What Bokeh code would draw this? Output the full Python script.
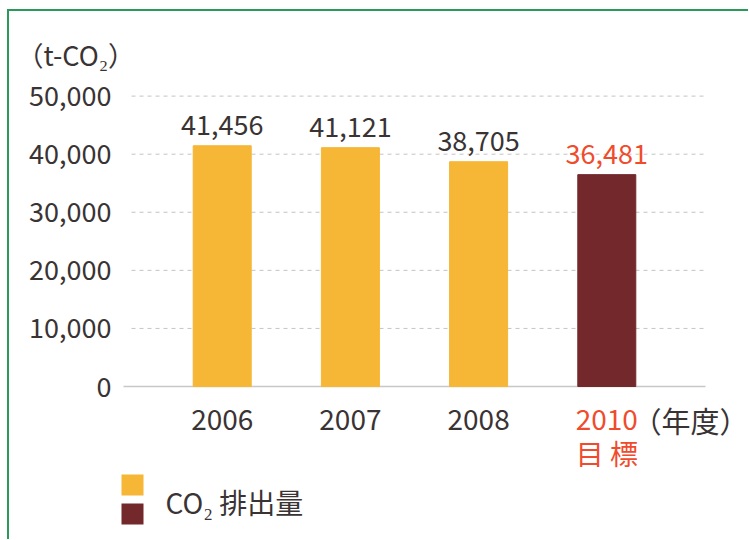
from bokeh.plotting import figure
from bokeh.models import (ColumnDataSource, LabelSet, FixedTicker,
                          NumeralTickFormatter, Range1d, BoxAnnotation)
from bokeh.core.properties import value
from bokeh.embed import file_html
from bokeh.resources import INLINE

# ---- data ----
years = ["2006", "2007", "2008", "2010"]
emissions = [41456, 41121, 38705, 36481]
value_labels = ["41,456", "41,121", "38,705", "36,481"]
y_ticks = [0, 10000, 20000, 30000, 40000, 50000]
unit_label = "（t-CO₂）"
year_unit = "（年度）"
target_label = "目 標"
legend_label = "CO₂ 排出量"

FONT = "Noto Sans CJK JP"
DARK = "#3a3334"
RED = "#f04b2c"
YELLOW = "#f6b636"
MAROON = "#73292c"
GREEN = "#2a9a5a"
GRID = "#c4c4c4"

bar_colors = [YELLOW, YELLOW, YELLOW, MAROON]
label_colors = [DARK, DARK, DARK, RED]

# ---- layout (page pixels -> data) ----
ORGX, ORGY = 9, 11            # canvas origin on the page
SX = 582 / 4.54               # px per category step
SY = 302 / 52000              # px per unit of CO2


def px_x(page_x):
    return -0.77 + (page_x - 123) / SX


def px_y(page_y):
    return (386 - page_y) / SY


F_LEFT, F_RIGHT, F_TOP, F_BOT = 118, 748, 84, 539
W, H = F_RIGHT - ORGX, F_BOT - ORGY
FL, FT = F_LEFT - ORGX, F_TOP - ORGY

idx = list(range(len(years)))
src = ColumnDataSource(dict(x=idx, top=emissions, color=bar_colors,
                            lab=value_labels, lcol=label_colors, year=years))

p = figure(width=W, height=H, output_backend="svg", toolbar_location=None,
           x_range=Range1d(px_x(F_LEFT), px_x(F_RIGHT)),
           y_range=Range1d(px_y(F_BOT), px_y(F_TOP)),
           x_axis_location=None,
           min_border_left=FL, min_border_right=0,
           min_border_top=FT, min_border_bottom=0)
p.frame_width = W - FL
p.frame_height = H - FT
p.outline_line_color = None
p.background_fill_color = "white"
p.border_fill_color = "white"
p.styles = {"margin-left": "7px", "margin-top": "9px",
            "border-top": f"2px solid {GREEN}", "border-left": f"2px solid {GREEN}"}

# unit label as title
p.title.text = unit_label
p.title.align = "left"
p.title.offset = 16 - F_LEFT
p.title.text_font = FONT
p.title.text_font_size = "27px"
p.title.text_font_style = "normal"
p.title.text_color = DARK
p.title.standoff = 21

# grid lines and baseline
p.xgrid.visible = False
p.ygrid.visible = False
gx0 = [px_x(131)] * (len(y_ticks) - 1)
gx1 = [px_x(704)] * (len(y_ticks) - 1)
p.segment(x0=gx0, x1=gx1, y0=y_ticks[1:], y1=y_ticks[1:], line_color=GRID,
          line_dash="4 4", line_width=1)
p.segment(x0=[px_x(123)], x1=[px_x(705)], y0=[y_ticks[0]], y1=[y_ticks[0]],
          line_color="#c8c8c8", line_width=1.5)

p.vbar(x="x", top="top", bottom=0, width=58 / SX, color="color", source=src)

# y axis
p.yaxis.ticker = FixedTicker(ticks=y_ticks)
p.yaxis.formatter = NumeralTickFormatter(format="0,0")
p.yaxis.axis_line_color = None
p.yaxis.major_tick_line_color = None
p.yaxis.minor_tick_line_color = None
p.yaxis.major_tick_out = 0
p.yaxis.major_tick_in = 0
p.yaxis.major_label_standoff = 7
p.yaxis.major_label_text_font = FONT
p.yaxis.major_label_text_font_size = "27px"
p.yaxis.major_label_text_color = DARK

# value labels above bars
p.add_layout(LabelSet(x="x", y="top", text="lab", source=src, text_color="lcol",
                      text_font=value(FONT), text_font_size="27px", text_align="center",
                      text_baseline="alphabetic", y_offset=11))

# category labels, year unit, target note, legend text
txt = ColumnDataSource(dict(
    x=idx + [px_x(632), idx[3], px_x(165)],
    y=[px_y(419)] * 4 + [px_y(419), px_y(452), px_y(501)],
    text=years + [year_unit, target_label, legend_label],
    color=label_colors + [DARK, RED, DARK],
    align=["center"] * 4 + ["left", "center", "left"],
    size=["28px"] * 4 + ["29px", "28px", "28px"],
))
p.add_layout(LabelSet(x="x", y="y", text="text", source=txt, text_color="color",
                      text_font=value(FONT), text_font_size="size", text_align="align",
                      text_baseline="middle"))

# legend swatches
p.add_layout(BoxAnnotation(left=px_x(121), right=px_x(143), top=px_y(474), bottom=px_y(495),
                           fill_color=YELLOW, fill_alpha=1, line_color=None))
p.add_layout(BoxAnnotation(left=px_x(121), right=px_x(143), top=px_y(503), bottom=px_y(524),
                           fill_color=MAROON, fill_alpha=1, line_color=None))

open("out.html", "w").write(file_html(p, INLINE))
